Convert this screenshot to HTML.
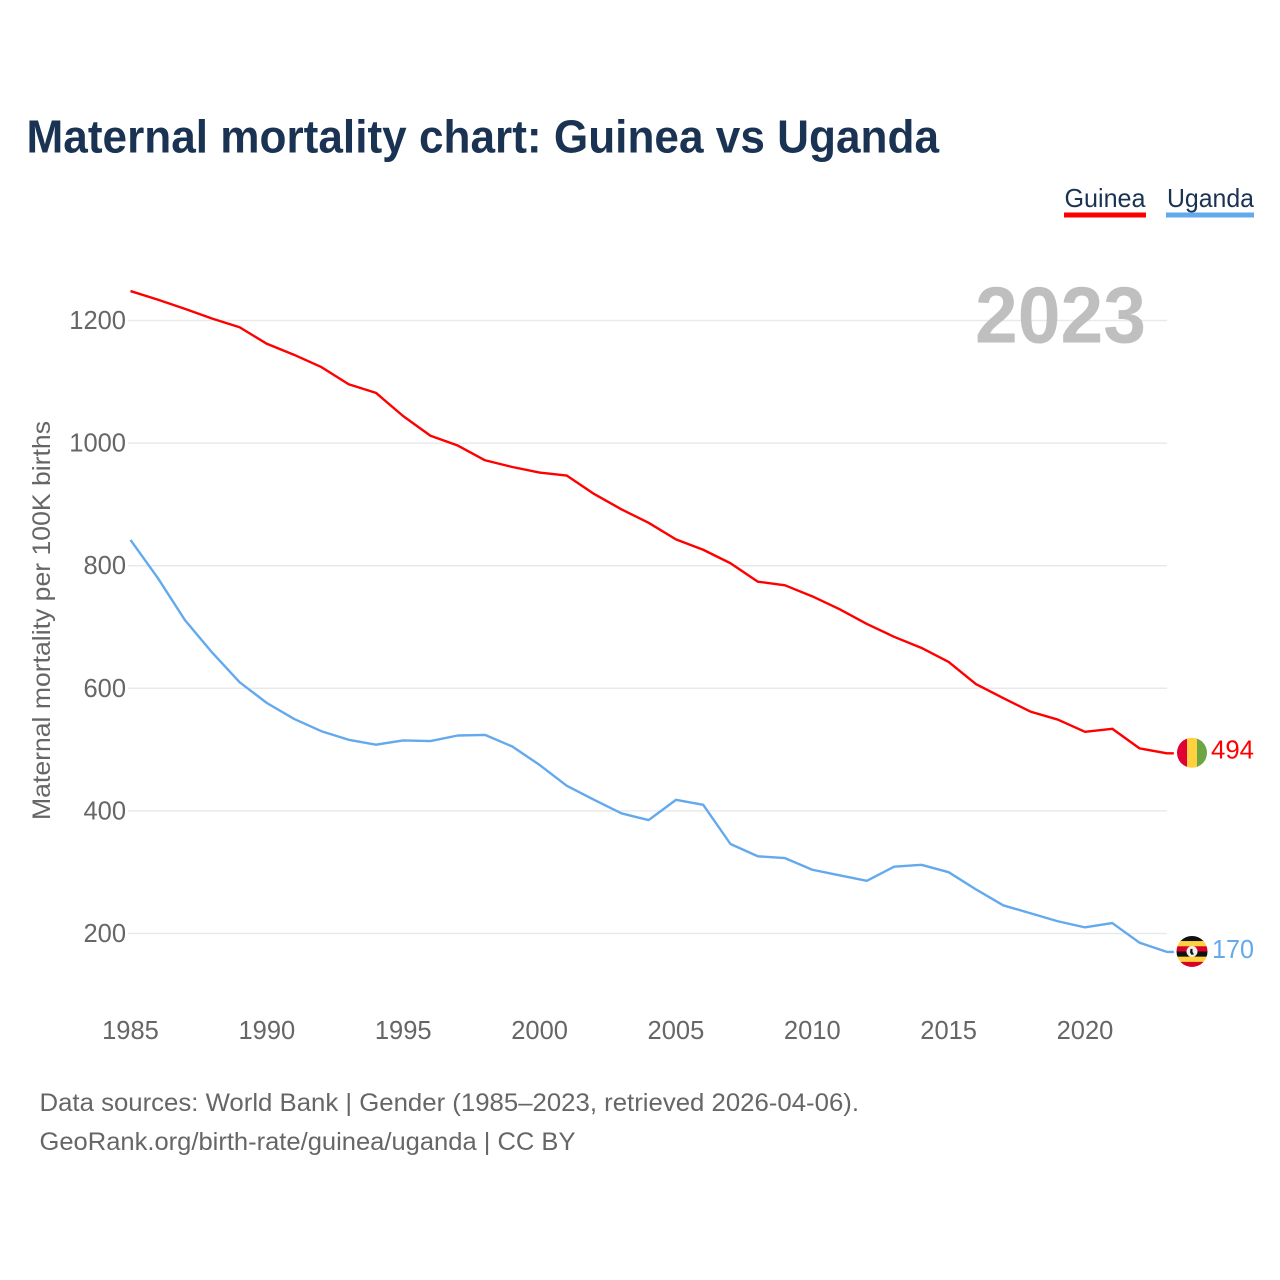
<!DOCTYPE html>
<html lang="en">
<head>
<meta charset="utf-8">
<title>Maternal mortality chart: Guinea vs Uganda</title>
<style>
html,body{margin:0;padding:0;background:#fff;width:1280px;height:1280px;overflow:hidden}
svg{display:block}
text{font-family:"Liberation Sans",sans-serif}
</style>
</head>
<body>
<svg id="chart" xmlns="http://www.w3.org/2000/svg" width="1280" height="1280" viewBox="0 0 1280 1280">
  <rect x="0" y="0" width="1280" height="1280" fill="#ffffff"/>
  <defs>
    <clipPath id="flag-clip-guinea"><circle id="clip-circle-guinea" cx="1192" cy="753" r="15"/></clipPath>
    <clipPath id="flag-clip-uganda"><circle id="clip-circle-uganda" cx="1192" cy="951" r="15.5"/></clipPath>
  </defs>
  <text x="26.5" y="152.5" font-size="46" font-weight="700" fill="#1a3353" textLength="912.5" lengthAdjust="spacingAndGlyphs">Maternal mortality chart: Guinea vs Uganda</text>

  <g>
    <text x="1064.5" y="207" font-size="26" fill="#1a3353" textLength="81" lengthAdjust="spacingAndGlyphs">Guinea</text>
    <rect x="1064" y="212.5" width="82" height="5" fill="#ff0000"/>
  </g>
  <g>
    <text x="1167" y="207" font-size="26" fill="#1a3353" textLength="87" lengthAdjust="spacingAndGlyphs">Uganda</text>
    <rect x="1166" y="212.5" width="88" height="5" fill="#63a9ee"/>
  </g>

  <g id="grid"></g>
  <g id="y-ticks"></g>
  <g id="x-ticks"></g>

  <text x="975" y="342.5" font-size="80" font-weight="700" fill="#bfbfbf" textLength="171" lengthAdjust="spacingAndGlyphs">2023</text>

  <text transform="translate(50,820) rotate(-90)" x="0" y="0" font-size="25" fill="#666666" textLength="399" lengthAdjust="spacingAndGlyphs">Maternal mortality per 100K births</text>

  <g id="series"></g>

  <g id="flag-guinea" clip-path="url(#flag-clip-guinea)"></g>
  <g id="flag-uganda" clip-path="url(#flag-clip-uganda)"></g>

  <text id="value-guinea" x="1211" font-size="25.5" fill="#ff0000" textLength="43" lengthAdjust="spacingAndGlyphs"></text>
  <text id="value-uganda" x="1212" font-size="25.5" fill="#63a9ee" textLength="42" lengthAdjust="spacingAndGlyphs"></text>

  <text x="39.5" y="1111" font-size="25" fill="#666666" textLength="819.5" lengthAdjust="spacingAndGlyphs">Data sources: World Bank | Gender (1985–2023, retrieved 2026-04-06).</text>
  <text x="39.5" y="1150" font-size="25" fill="#666666" textLength="536" lengthAdjust="spacingAndGlyphs">GeoRank.org/birth-rate/guinea/uganda | CC BY</text>
</svg>
<script>
const years = [1985,1986,1987,1988,1989,1990,1991,1992,1993,1994,1995,1996,1997,1998,1999,2000,2001,2002,2003,2004,2005,2006,2007,2008,2009,2010,2011,2012,2013,2014,2015,2016,2017,2018,2019,2020,2021,2022,2023];
const guineaValues = [1248,1234,1219,1203,1189,1162,1144,1124,1096,1082,1044,1012,996,972,961,952,947,917,892,870,843,826,804,774,768,750,729,705,684,666,643,607,584,562,549,529,534,502,494];
const ugandaValues = [842,780,711,658,610,576,550,530,516,508,515,514,523,524,505,475,441,418,396,385,418,410,346,326,323,304,295,286,309,312,300,272,246,233,220,210,217,185,170];
const yTickValues = [200,400,600,800,1000,1200];
const xTickValues = [1985,1990,1995,2000,2005,2010,2015,2020];

const NS = 'http://www.w3.org/2000/svg';
function xScale(year){ return 130.5 + (year - 1985) * (1085 - 130.5) / 35; }
function yScale(value){ return 933.5 - (value - 200) * (933.5 - 320.5) / 1000; }
function make(tag, attrs, parent){
  const el = document.createElementNS(NS, tag);
  for (const k in attrs) el.setAttribute(k, attrs[k]);
  parent.appendChild(el);
  return el;
}

const gridGroup = document.getElementById('grid');
const yTickGroup = document.getElementById('y-ticks');
const xTickGroup = document.getElementById('x-ticks');
const seriesGroup = document.getElementById('series');

yTickValues.forEach(function(v){
  const line = make('line', {x1:128, x2:1167, y1:yScale(v), y2:yScale(v), stroke:'#e9e9e9', 'stroke-width':1.5}, gridGroup);
  
  
  const label = make('text', {x:126, y:yScale(v) + 8.5, 'text-anchor':'end', 'font-size':25.5, fill:'#666666'}, yTickGroup);
  
  
  label.textContent = String(v);
});

xTickValues.forEach(function(yr){
  const label = make('text', {x:xScale(yr), y:1039, 'text-anchor':'middle', 'font-size':25.5, fill:'#666666'}, xTickGroup);
  
  
  label.textContent = String(yr);
});

function drawLine(values, color, name){
  const pts = values.map(function(v, i){ return xScale(years[i]) + ',' + yScale(v); });
  const last = values[values.length - 1];
  pts.push((xScale(years[years.length - 1]) + 7) + ',' + yScale(last));
  const path = make('polyline', {points:pts.join(' '), fill:'none', stroke:color, 'stroke-width':2.4, 'stroke-linejoin':'round'}, seriesGroup);
  
  
}
drawLine(ugandaValues, '#63a9ee', 'series-line-uganda');
drawLine(guineaValues, '#ff0000', 'series-line-guinea');

const guineaLast = guineaValues[guineaValues.length - 1];
const ugandaLast = ugandaValues[ugandaValues.length - 1];
const guineaY = yScale(guineaLast);
const ugandaY = yScale(ugandaLast);

const guineaLabel = document.getElementById('value-guinea');
guineaLabel.setAttribute('y', guineaY + 5);
guineaLabel.textContent = String(guineaLast);
const ugandaLabel = document.getElementById('value-uganda');
ugandaLabel.setAttribute('y', ugandaY + 6);
ugandaLabel.textContent = String(ugandaLast);

document.getElementById('clip-circle-guinea').setAttribute('cy', guineaY - 0.5);
document.getElementById('clip-circle-uganda').setAttribute('cy', ugandaY - 0.4);

const flagG = document.getElementById('flag-guinea');
['#e00034','#ffd13f','#6da544'].forEach(function(c, i){
  make('rect', {x:1177 + i * 10, y:guineaY - 16, width:10.2, height:31, fill:c}, flagG);
});

const flagU = document.getElementById('flag-uganda');
['#111111','#ffd13f','#d80027','#111111','#ffd13f','#d80027'].forEach(function(c, i){
  make('rect', {x:1176, y:ugandaY - 16 + i * 5.2, width:32, height:5.4, fill:c}, flagU);
});
make('circle', {cx:1192, cy:ugandaY - 0.4, r:5.5, fill:'#f0f0f0'}, flagU);
make('path', {d:'M' + 1190.5 + ' ' + (ugandaY - 3) + 'l2 0l0 3l1.5 2.5l-2.5 0.5l-1.5-2.5z', fill:'#111111'}, flagU);
</script>
</body>
</html>
